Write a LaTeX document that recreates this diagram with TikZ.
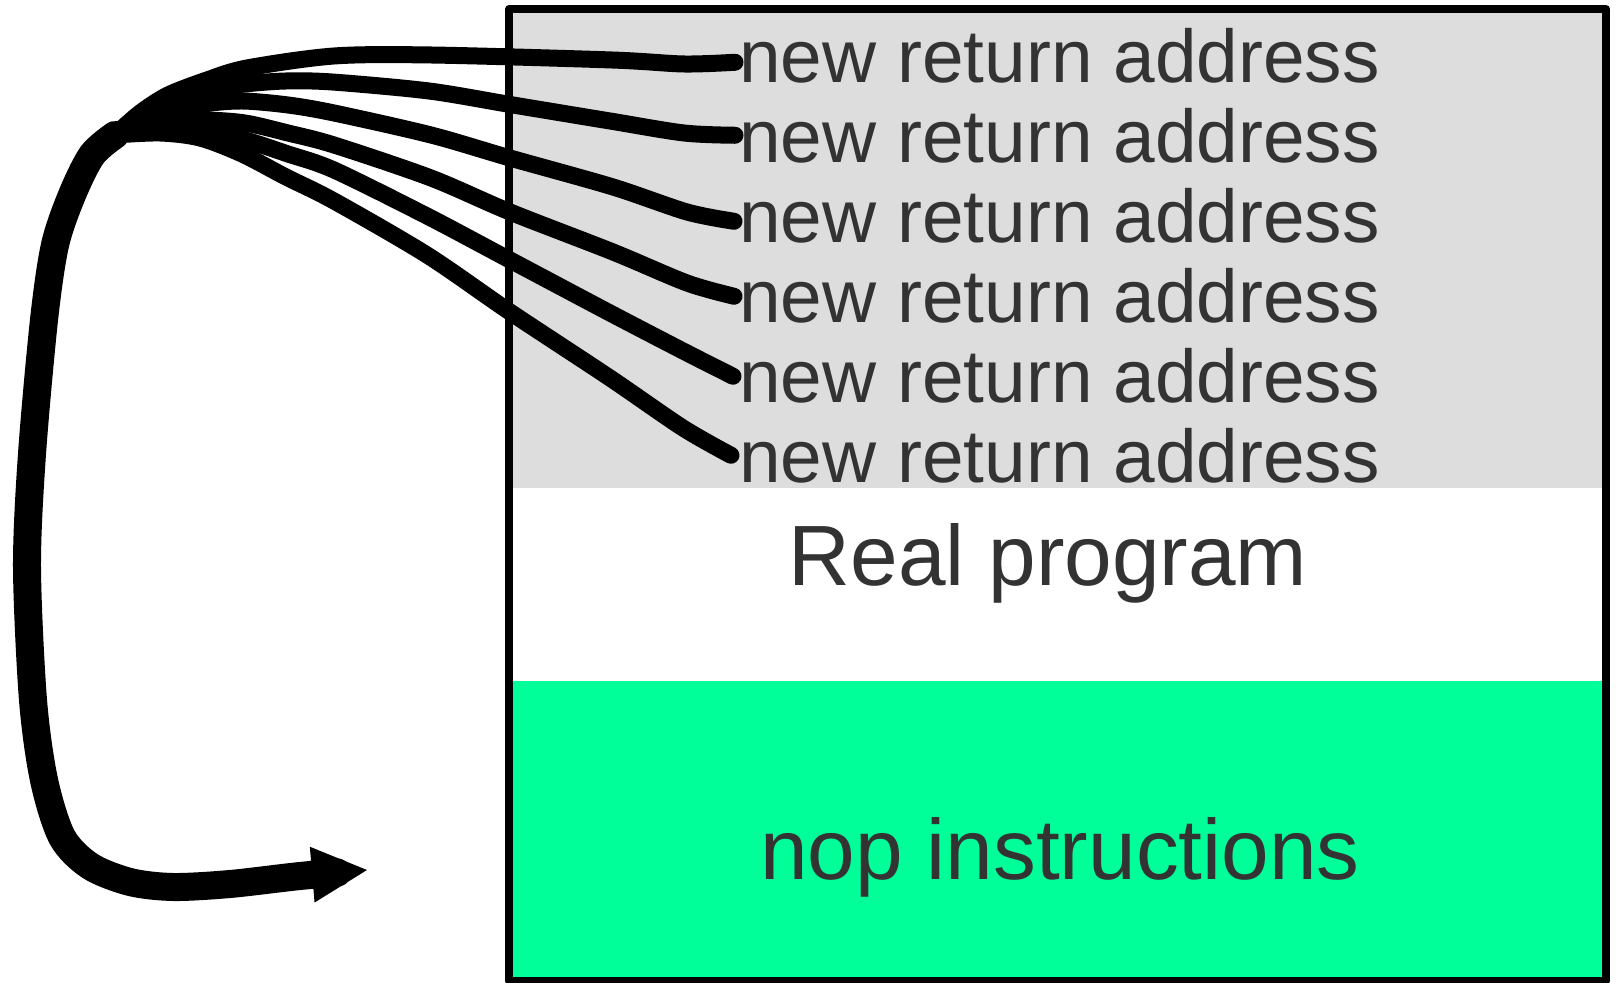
\documentclass[tikz,border=0pt]{standalone}
\usepackage{fontspec}
\setmainfont{Liberation Sans}
\usetikzlibrary{arrows.meta,calc}
\definecolor{stackgray}{HTML}{DDDDDD}
\definecolor{nopgreen}{HTML}{00FF99}
\definecolor{inktext}{HTML}{333333}
\begin{document}
\begin{tikzpicture}[x=0.5pt,y=-0.5pt,
  retaddr/.style={anchor=base west, inner sep=0pt, text=inktext,
    font=\fontsize{37.4pt}{41pt}\selectfont},
  bigtext/.style={anchor=base, inner sep=0pt, text=inktext,
    font=\fontsize{42.8pt}{47pt}\selectfont},
  jump/.style={line width=8.5pt, line cap=round, line join=round},
  loopback/.style={line width=14pt, line cap=round, line join=round,
    -{Triangle[length=27.5pt,width=28pt,line width=0pt]}}]
\useasboundingbox (0,0) rectangle (1617,983);

% memory regions
\fill[stackgray] (509,9) rectangle (1606,488);
\fill[white] (509,488) rectangle (1606,681);
\fill[nopgreen] (509,681) rectangle (1606,981);
\draw[line width=4pt, line join=round] (509,9) rectangle (1606,981);

% labels
\node[retaddr] (t1) at (739,83) {new return address};
\node[retaddr] (t2) at (739,163) {new return address};
\node[retaddr] (t3) at (739,243) {new return address};
\node[retaddr] (t4) at (739,323) {new return address};
\node[retaddr] (t5) at (739,403) {new return address};
\node[retaddr] (t6) at (739,483) {new return address};
\node[bigtext] (prog) at (1048,586) {Real program};
\node[bigtext] (nops) at (1060,879) {nop instructions};

% connector end points
\coordinate (hub) at (115,135);
\coordinate (tip) at (367,870);
\coordinate (e1) at ($(t1.west)+(-4,6)$);
\coordinate (e2) at ($(t2.west)+(-4,-1)$);
\coordinate (e3) at ($(t3.west)+(-5,5)$);
\coordinate (e4) at ($(t4.west)+(-5,0)$);
\coordinate (e5) at ($(t5.west)+(-6,0)$);
\coordinate (e6) at ($(t6.west)+(-8,-1)$);

% jumps from each return address
\draw[jump] plot[smooth] coordinates {(e1) (684,64) (612,60) (431,55) (334,56) (247,68) (207,80) (168,95) (140,113) (hub)};
\draw[jump] plot[smooth] coordinates {(e2) (684,133) (610,121) (513,105) (429,91) (332,82) (286,81) (245,84) (204,90) (165,106) (hub)};
\draw[jump] plot[smooth] coordinates {(e3) (687,212) (613,187) (510,158) (431,135) (334,113) (288,105) (242,101) (204,104) (165,113) (hub)};
\draw[jump] plot[smooth] coordinates {(e4) (687,283) (613,252) (510,212) (431,178) (334,145) (288,133) (245,123) (204,120) (165,122) (hub)};
\draw[jump] plot[smooth] coordinates {(e5) (687,353) (610,313) (510,260) (427,216) (334,170) (288,154) (245,140) (204,132) (165,128) (hub)};
\draw[jump] plot[smooth] coordinates {(e6) (683,428) (610,378) (510,312) (427,255) (334,201) (286,177) (242,154) (200,138) (160,133) (hub)};

% common path down into the nop sled
\draw[loopback] plot[smooth] coordinates {(hub) (92,155) (72,195) (55,245) (44,320) (32,454) (27,567) (33,700) (44,780) (62,837) (90,866) (130,882) (173,887) (230,884) (300,876) (tip)};
\end{tikzpicture}
\end{document}
